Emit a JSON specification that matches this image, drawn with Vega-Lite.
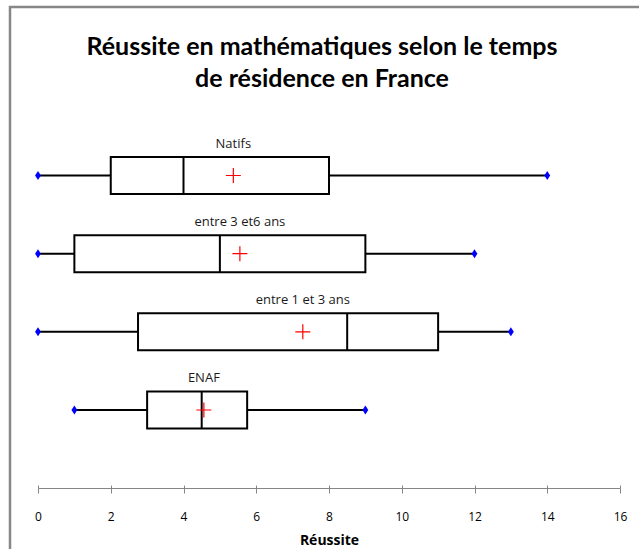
{
  "$schema": "https://vega.github.io/schema/vega-lite/v6.json",
  "autosize": "none",
  "width": 632,
  "height": 545,
  "padding": {"left": 10, "top": 7, "right": 0, "bottom": 0},
  "background": "white",
  "config": {"view": {"stroke": "#878787", "strokeWidth": 2.5}, "font": "Lato"},
  "title": {
    "text": ["Réussite en mathématiques selon le temps", "de résidence en France"],
    "font": "Lato",
    "fontSize": 25,
    "fontWeight": "bold",
    "color": "black",
    "anchor": "middle",
    "frame": "group",
    "baseline": "top",
    "lineHeight": 32,
    "offset": -85,
    "dx": -4
  },
  "data": {
    "values": [
      {"groupe": "Natifs", "min": 0, "q1": 2, "median": 4, "q3": 8, "max": 14, "moyenne": 5.37},
      {"groupe": "entre 3 et6 ans", "min": 0, "q1": 1, "median": 5, "q3": 9, "max": 12, "moyenne": 5.55},
      {"groupe": "entre 1 et 3 ans", "min": 0, "q1": 2.75, "median": 8.5, "q3": 11, "max": 13, "moyenne": 7.28},
      {"groupe": "ENAF", "min": 1, "q1": 3, "median": 4.5, "q3": 5.75, "max": 9, "moyenne": 4.56}
    ]
  },
  "resolve": {"axis": {"x": "independent"}},
  "encoding": {
    "y": {
      "field": "groupe",
      "type": "nominal",
      "scale": {"type": "point", "domain": ["Natifs", "entre 3 et6 ans", "entre 1 et 3 ans", "ENAF"], "range": [168.5, 403], "padding": 0},
      "axis": null
    }
  },
  "layer": [
    {
      "mark": {"type": "rule", "color": "black", "strokeWidth": 2},
      "encoding": {
        "x": {
          "field": "min",
          "type": "quantitative",
          "scale": {"domain": [0, 16], "range": [28, 610], "nice": false, "zero": false},
          "axis": {
            "orient": "bottom",
            "offset": -64,
            "values": [0, 2, 4, 6, 8, 10, 12, 14, 16],
            "grid": false,
            "domainColor": "#868686",
            "domainWidth": 1,
            "tickColor": "#868686",
            "tickWidth": 1,
            "tickSize": 5,
            "labelPadding": 18,
            "labelFont": "Open Sans",
            "labelFontSize": 12,
            "labelColor": "black",
            "labelFlush": false,
            "labelOverlap": false,
            "title": "Réussite",
            "titleFont": "Open Sans",
            "titleFontSize": 14,
            "titleFontWeight": "bold",
            "titleColor": "black",
            "titlePadding": 11
          }
        },
        "x2": {"field": "max"}
      }
    },
    {
      "mark": {"type": "bar", "fill": "white", "stroke": "black", "strokeWidth": 2, "size": 37},
      "encoding": {
        "x": {
          "field": "q1",
          "type": "quantitative",
          "axis": {
            "orient": "bottom",
            "offset": -64,
            "values": [0, 2, 4, 6, 8, 10, 12, 14, 16],
            "grid": false,
            "domain": false,
            "labels": false,
            "title": null,
            "tickColor": "#868686",
            "tickWidth": 1,
            "tickSize": -3
          }
        },
        "x2": {"field": "q3"}
      }
    },
    {
      "mark": {"type": "tick", "color": "black", "opacity": 1, "thickness": 2, "size": 37, "orient": "vertical"},
      "encoding": {"x": {"field": "median", "type": "quantitative", "axis": null}}
    },
    {
      "mark": {"type": "point", "shape": "M-1,0H1M0,-1V1", "filled": false, "stroke": "#ff0000", "strokeWidth": 1.2, "size": 225, "opacity": 1},
      "encoding": {"x": {"field": "moyenne", "type": "quantitative", "axis": null}}
    },
    {
      "mark": {"type": "point", "shape": "M0,-1L0.65,0L0,1L-0.65,0Z", "filled": true, "color": "#0000ff", "size": 81, "opacity": 1},
      "encoding": {"x": {"field": "min", "type": "quantitative", "axis": null}}
    },
    {
      "mark": {"type": "point", "shape": "M0,-1L0.65,0L0,1L-0.65,0Z", "filled": true, "color": "#0000ff", "size": 81, "opacity": 1},
      "encoding": {"x": {"field": "max", "type": "quantitative", "axis": null}}
    },
    {
      "mark": {"type": "text", "font": "Open Sans", "fontSize": 13, "color": "#1a1a1a", "align": "center", "baseline": "middle", "dy": -32},
      "encoding": {
        "x": {"field": "moyenne", "type": "quantitative", "axis": null},
        "text": {"field": "groupe"}
      }
    }
  ]
}
